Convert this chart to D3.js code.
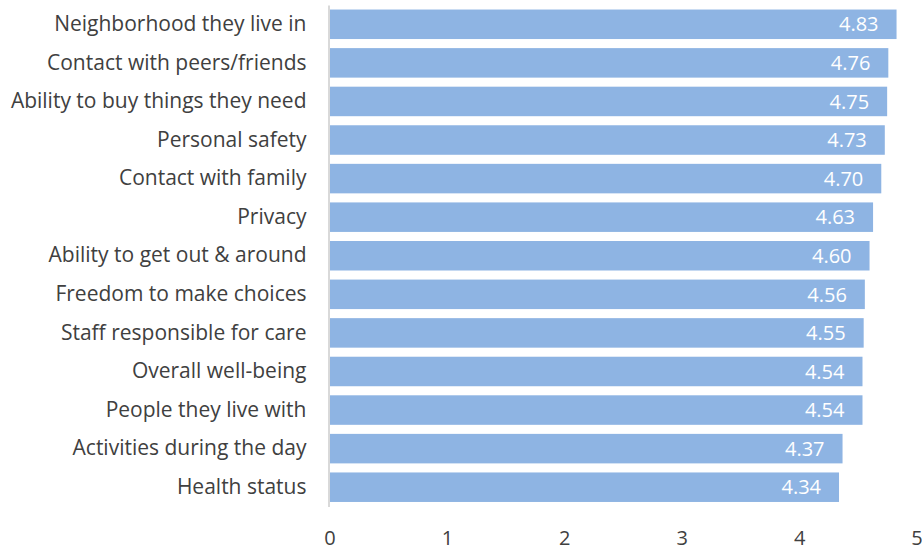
<!DOCTYPE html>
<html>
<head>
<meta charset="utf-8">
<script src="https://cdn.jsdelivr.net/npm/d3@7"></script>
<style>
  html, body { margin: 0; padding: 0; background: #fff; }
  svg text { font-family: "Open Sans", "Noto Sans", sans-serif; }
</style>
</head>
<body>
<svg id="chart" width="922" height="550"></svg>
<script>
// Mean satisfaction scores by life area
const categories = [
  "Neighborhood they live in",
  "Contact with peers/friends",
  "Ability to buy things they need",
  "Personal safety",
  "Contact with family",
  "Privacy",
  "Ability to get out & around",
  "Freedom to make choices",
  "Staff responsible for care",
  "Overall well-being",
  "People they live with",
  "Activities during the day",
  "Health status"
];
const values = [4.83, 4.76, 4.75, 4.73, 4.70, 4.63, 4.60, 4.56, 4.55, 4.54, 4.54, 4.37, 4.34];
const tickValues = [0, 1, 2, 3, 4, 5];

const svg = d3.select("#chart");
const x0 = 329.5, x1 = 916.5, yTop = 5, yBottom = 506.5;

const x = d3.scaleLinear().domain([0, 5]).range([x0, x1]);
const y = d3.scaleBand().domain(categories).range([yTop, yBottom])
  .paddingInner(0.235).paddingOuter(0.1175);

// bars
svg.append("g").selectAll("rect")
  .data(values)
  .join("rect")
  .attr("x", x(0))
  .attr("y", (d, i) => y(categories[i]))
  .attr("width", d => x(d) - x(0))
  .attr("height", y.bandwidth())
  .attr("fill", "#8EB4E3");

// value labels inside bar ends
svg.append("g").selectAll("text")
  .data(values)
  .join("text")
  .attr("x", d => x(d) - 18)
  .attr("y", (d, i) => y(categories[i]) + y.bandwidth() / 2)
  .attr("dy", "0.36em")
  .attr("text-anchor", "end")
  .attr("fill", "#ffffff")
  .attr("font-size", 20)
  .text(d => d.toFixed(2));

// category axis
const yAxis = svg.append("g")
  .attr("transform", `translate(${x0 - 1},0)`)
  .call(d3.axisLeft(y).tickSize(0).tickPadding(22));
yAxis.select(".domain").attr("stroke", "#d9d9d9").attr("stroke-width", 2);
yAxis.selectAll("text").attr("font-size", 21).attr("fill", "#404040");

// value axis
const xAxis = svg.append("g")
  .attr("transform", `translate(0,${yBottom})`)
  .call(d3.axisBottom(x).tickValues(tickValues).tickFormat(d3.format("d")).tickSize(0).tickPadding(24));
xAxis.select(".domain").remove();
xAxis.selectAll("text").attr("font-size", 20).attr("fill", "#404040");
</script>
</body>
</html>
